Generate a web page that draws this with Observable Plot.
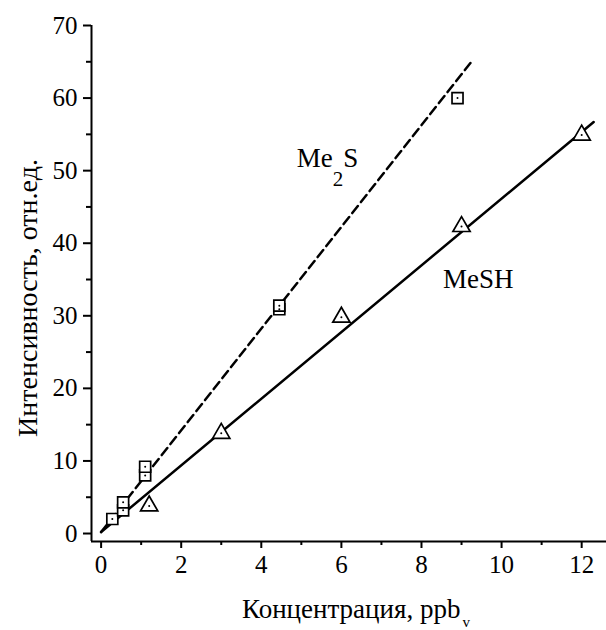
<!DOCTYPE html>
<html><head><meta charset="utf-8">
<script src="https://cdn.jsdelivr.net/npm/d3@7"></script>
<script src="https://cdn.jsdelivr.net/npm/@observablehq/plot@0.6"></script>
<style>body{margin:0;background:#fff;} svg{display:block}</style>
</head><body><div id="chart"></div>
<script>
// Me2S (squares)
const me2sX = [0.28, 0.55, 0.55, 1.1, 1.1, 4.45, 4.45, 8.9];
const me2sY = [2.0, 3.2, 4.3, 8.0, 9.2, 30.9, 31.4, 60.0];
// MeSH (triangles)
const meshX = [1.2, 3, 6, 9, 12];
const meshY = [3.8, 13.8, 29.8, 42.3, 54.9];
// fitted lines
const me2sFitX = [0, 9.26];
const me2sFitY = [0.2, 65.1];
const meshFitX = [0, 12.3];
const meshFitY = [0.2, 56.7];
// ticks
const xMajor = [0, 2, 4, 6, 8, 10, 12];
const xMinor = [1, 3, 5, 7, 9, 11];
const yMajor = [0, 10, 20, 30, 40, 50, 60, 70];
const yMinor = [5, 15, 25, 35, 45, 55, 65];
const xDomain = [-0.24, 12.62];
const yDomain = [-1.1, 70];
// texts
const xTitle = "Концентрация, ppb";
const xTitleSub = "v";
const yTitle = "Интенсивность, отн.ед.";
const me2sLabel = ["Me", "2", "S"];
const meshLabel = "MeSH";
const me2sLabelPos = [4.9, 50.4];
const meshLabelPos = [8.55, 33.8];

const me2s = me2sX.map((x, i) => ({x, y: me2sY[i]}));
const mesh = meshX.map((x, i) => ({x, y: meshY[i]}));
const me2sFit = me2sFitX.map((x, i) => ({x, y: me2sFitY[i]}));
const meshFit = meshFitX.map((x, i) => ({x, y: meshFitY[i]}));

const SERIF = '"Liberation Serif", "Times New Roman", serif';

const chart = Plot.plot({
  width: 606, height: 630,
  marginLeft: 91, marginRight: 0, marginTop: 25, marginBottom: 89,
  style: {background: "#fff", color: "#000"},
  x: {domain: xDomain},
  y: {domain: yDomain},
  marks: [
    Plot.axisX({ticks: xMajor, tickSize: 7, tickPadding: 7, strokeWidth: 2, label: null, fontSize: 25}),
    Plot.axisX({ticks: xMinor, tickSize: 4, text: null, strokeWidth: 2, label: null}),
    Plot.axisY({ticks: yMajor, tickSize: 8, tickPadding: 6, strokeWidth: 2, label: null, fontSize: 25}),
    Plot.axisY({ticks: yMinor, tickSize: 5, text: null, strokeWidth: 2, label: null}),
    Plot.ruleY([yDomain[0]], {strokeWidth: 2}),
    Plot.ruleX([xDomain[0]], {y1: yDomain[0], y2: yDomain[1], strokeWidth: 2}),
    Plot.line(me2sFit, {x: "x", y: "y", stroke: "black", strokeWidth: 2.5, strokeDasharray: "9,5"}),
    Plot.line(meshFit, {x: "x", y: "y", stroke: "black", strokeWidth: 2.5}),
    Plot.dot(me2s, {x: "x", y: "y", symbol: "square", r: 6.2, fill: "white", stroke: "black", strokeWidth: 1.7}),
    Plot.dot(me2s, {x: "x", y: "y", r: 1, fill: "black"}),
    Plot.dot(mesh, {x: "x", y: "y", symbol: "triangle", r: 6.4, fill: "white", stroke: "black", strokeWidth: 1.7}),
    Plot.dot(mesh, {x: "x", y: "y", r: 1, fill: "black"})
  ]
});
document.getElementById("chart").appendChild(chart);

const svg = d3.select(chart);
svg.attr("font-family", null).style("font-family", SERIF);
const sx = chart.scale("x"), sy = chart.scale("y");

// Me2S label
const t1 = svg.append("text")
  .attr("x", sx.apply(me2sLabelPos[0])).attr("y", sy.apply(me2sLabelPos[1]))
  .attr("text-anchor", "start").attr("fill", "black").style("font-size", "27px");
t1.append("tspan").text(me2sLabel[0]);
t1.append("tspan").style("font-size", "21px").attr("dy", 19).text(me2sLabel[1]);
t1.append("tspan").attr("dy", -19).text(me2sLabel[2]);

// MeSH label
svg.append("text")
  .attr("x", sx.apply(meshLabelPos[0])).attr("y", sy.apply(meshLabelPos[1]))
  .attr("text-anchor", "start").attr("fill", "black").style("font-size", "27px")
  .text(meshLabel);

// x title
const xt = svg.append("text")
  .attr("x", 242).attr("y", 618)
  .attr("text-anchor", "start").attr("fill", "black").style("font-size", "27px");
xt.append("tspan").text(xTitle);
xt.append("tspan").style("font-size", "15px").attr("dy", 9).attr("dx", 2).text(xTitleSub);

// y title
svg.append("text")
  .attr("transform", "translate(37,298) rotate(-90)")
  .attr("text-anchor", "middle").attr("fill", "black").style("font-size", "28px")
  .text(yTitle);

// force serif face on every text element
svg.selectAll("text").attr("font-family", null).style("font-family", SERIF);
svg.selectAll("g[aria-label='x-axis tick label'], g[aria-label='y-axis tick label']").attr("font-size", null).style("font-size", "25px");
</script>
</body></html>
